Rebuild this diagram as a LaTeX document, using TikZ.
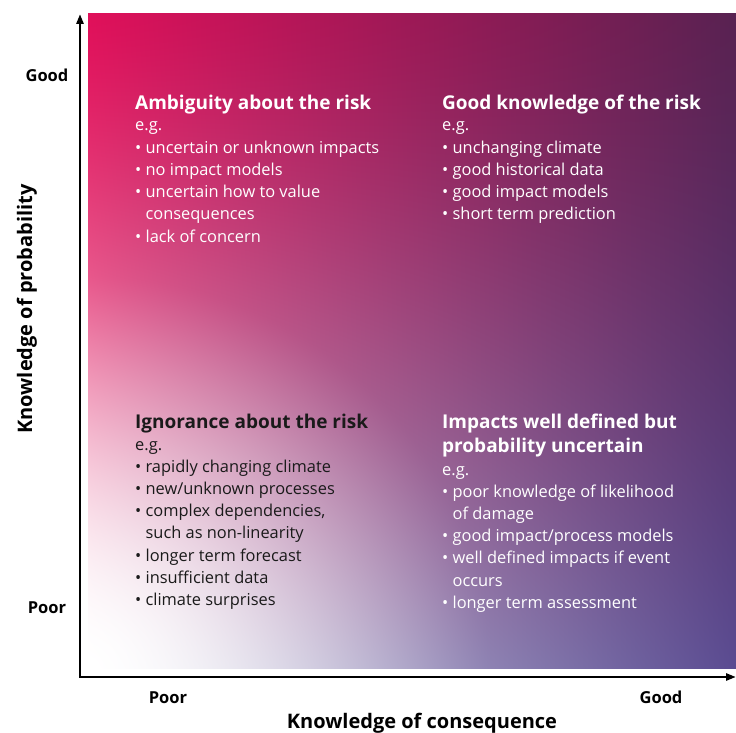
\documentclass[tikz,border=0pt]{standalone}
\usepackage{fontspec}
\setmainfont{Open Sans}
\usetikzlibrary{arrows.meta}
\pgfdeclarefunctionalshading{riskgrad}{\pgfpoint{0bp}{0bp}}{\pgfpoint{100bp}{100bp}}{}{%
25 sub 50 div exch 25 sub 50 div exch
dup 0 lt {pop 0} if dup 1 gt {pop 1} if
exch dup 0 lt {pop 0} if dup 1 gt {pop 1} if exch
1 index 0.62 div dup mul 1 index 0.6 div dup mul add sqrt 1 exch sub dup 0 lt {pop 0} if 1.2 exp
3 1 roll
1 exch sub 1.3 exp
exch
dup 0.8 exp
1 index -136 mul 224 add
1 index -162 mul 252 add
1 index sub 4 index mul add 255 div
2 index 18 mul 16 add
2 index -175 mul 250 add
1 index sub 5 index mul add 255 div
3 index -8 mul 90 add
3 index -107 mul 252 add
1 index sub 6 index mul add 255 div
6 3 roll pop pop pop
3 index 1 2 index sub mul add 3 1 roll
3 index 1 2 index sub mul add 3 1 roll
3 index 1 2 index sub mul add 3 1 roll
4 -1 roll pop
}
\definecolor{darktext}{RGB}{26,26,26}
\newcommand\contind{\hphantom{•\ }}
\tikzset{
  headtxt/.style={font=\fontsize{19}{21}\selectfont\bfseries, anchor=base west, inner sep=0pt, text=white},
  bodytxt/.style={font=\fontsize{16.4}{19}\selectfont, anchor=base west, inner sep=0pt, text=white},
  axlab/.style={font=\fontsize{16.5}{18}\selectfont\bfseries, anchor=base, inner sep=0pt, text=black},
  axtitle/.style={font=\fontsize{20}{22}\selectfont\bfseries, anchor=base, inner sep=0pt, text=black},
  axisline/.style={line width=2.6pt, {Triangle[length=10pt,width=7pt]}-{Triangle[length=10pt,width=7pt]}},
}
\begin{document}
\begin{tikzpicture}[x=1pt,y=-1pt]
\useasboundingbox (0,0) rectangle (736,733);
% gradient field
\coordinate (G1) at (88,14);
\coordinate (G2) at (736,668);
\shade[shading=riskgrad] (G1) rectangle (G2);
% axes
\coordinate (O) at (80,677);
\coordinate (Ytip) at (80,14);
\coordinate (Xtip) at (736,677);
\draw[axisline] (Ytip) -- (O) -- (Xtip);
% axis labels
\node[axlab] (ygood) at (47,82) {Good};
\node[axlab] (ypoor) at (47,613) {Poor};
\node[axlab] (xpoor) at (168,703) {Poor};
\node[axlab] (xgood) at (661,703) {Good};
\node[axtitle] (xtitle) at (422,728) {Knowledge of consequence};
\node[axtitle, rotate=90] (ytitle) at (32,309) {Knowledge of probability};
% top left
\node[headtxt] (tlh) at (135,110) {Ambiguity about the risk};
\foreach \txt [count=\i from 0] in {e.g., • uncertain or unknown impacts, • no impact models, • uncertain how to value, \contind consequences, • lack of concern}
  \node[bodytxt] (tl\i) at (135,{131+22.2*\i}) {\txt};
% top right
\node[headtxt] (trh) at (442,110) {Good knowledge of the risk};
\foreach \txt [count=\i from 0] in {e.g., • unchanging climate, • good historical data, • good impact models, • short term prediction}
  \node[bodytxt] (tr\i) at (442,{131+22.2*\i}) {\txt};
% bottom left
\node[headtxt, text=darktext] (blh) at (135,428) {Ignorance about the risk};
\foreach \txt [count=\i from 0] in {e.g., • rapidly changing climate, • new/unknown processes, {• complex dependencies,}, \contind such as non-linearity, • longer term forecast, • insufficient data, • climate surprises}
  \node[bodytxt, text=darktext] (bl\i) at (135,{450+22.2*\i}) {\txt};
% bottom right
\node[headtxt] (brh1) at (442,428) {Impacts well defined but};
\node[headtxt] (brh2) at (442,452) {probability uncertain};
\foreach \txt [count=\i from 0] in {e.g., • poor knowledge of likelihood, \contind of damage, • good impact/process models, • well defined impacts if event, \contind occurs, • longer term assessment}
  \node[bodytxt] (br\i) at (442,{475+22.2*\i}) {\txt};
\end{tikzpicture}
\end{document}
